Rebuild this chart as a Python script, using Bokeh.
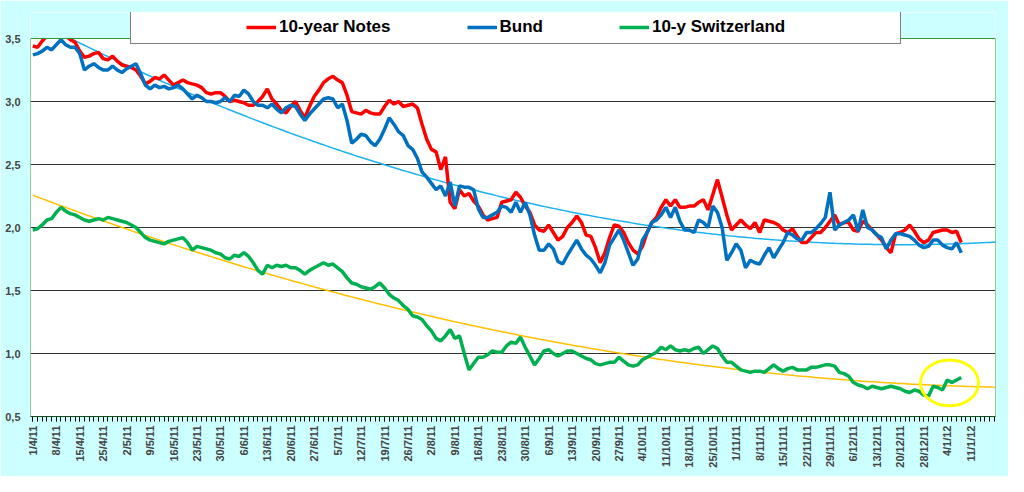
import numpy as np
from bokeh.plotting import figure
from bokeh.models import FixedTicker, Legend, LegendItem, BoxAnnotation
from bokeh.embed import file_html
from bokeh.resources import INLINE

tick_labels = ["1/4/11","8/4/11","15/4/11","25/4/11","2/5/11","9/5/11","16/5/11","23/5/11","30/5/11",
               "6/6/11","13/6/11","20/6/11","27/6/11","5/7/11","12/7/11","19/7/11","26/7/11","2/8/11",
               "9/8/11","16/8/11","23/8/11","30/8/11","6/9/11","13/9/11","20/9/11","27/9/11","4/10/11",
               "11/10/11","18/10/11","25/10/11","1/11/11","8/11/11","15/11/11","22/11/11","29/11/11",
               "6/12/11","13/12/11","20/12/11","28/12/11","4/1/12","11/1/12"]

notes = [3.44,3.43,3.48,3.52,3.55,3.55,3.54,3.52,3.49,3.47,3.40,3.35,3.36,3.38,3.39,3.34,3.33,3.36,3.32,3.29,
         3.28,3.27,3.25,3.20,3.14,3.16,3.19,3.18,3.21,3.17,3.13,3.15,3.17,3.15,3.14,3.13,3.11,3.07,3.06,3.07,
         3.07,3.04,3.00,3.01,3.00,2.99,2.97,2.97,3.00,3.04,3.10,3.02,2.98,2.93,2.91,2.96,3.00,2.93,2.87,2.96,
         3.04,3.09,3.15,3.18,3.20,3.17,3.15,3.05,2.92,2.91,2.90,2.93,2.91,2.90,2.90,2.96,3.01,2.98,3.00,2.96,
         2.97,2.98,2.95,2.82,2.70,2.62,2.60,2.46,2.56,2.20,2.15,2.30,2.25,2.27,2.21,2.17,2.10,2.06,2.07,2.08,
         2.20,2.21,2.22,2.28,2.24,2.17,2.12,2.02,1.98,1.97,2.02,1.96,1.90,1.93,2.00,2.04,2.09,2.04,1.94,1.93,
         1.84,1.72,1.80,1.92,2.02,2.01,1.96,1.88,1.82,1.79,1.85,1.96,2.04,2.08,2.16,2.22,2.17,2.22,2.16,2.16,
         2.17,2.17,2.20,2.22,2.14,2.26,2.38,2.24,2.10,1.98,2.02,2.06,2.02,1.99,2.04,1.96,2.06,2.05,2.04,2.02,
         1.98,1.96,1.99,1.93,1.88,1.88,1.92,1.96,1.96,2.00,2.05,2.10,2.02,2.04,2.04,1.98,1.97,2.05,2.02,1.98,
         1.94,1.90,1.84,1.80,1.95,1.96,1.98,2.02,1.97,1.91,1.88,1.90,1.96,1.97,1.98,1.98,1.96,1.97,1.88]

bund = [3.37,3.38,3.40,3.43,3.41,3.45,3.49,3.45,3.43,3.43,3.38,3.25,3.28,3.30,3.27,3.25,3.25,3.28,3.25,3.23,
        3.26,3.28,3.30,3.22,3.13,3.10,3.13,3.11,3.12,3.10,3.11,3.13,3.10,3.06,3.02,3.05,3.03,3.00,3.00,2.99,
        3.00,3.03,3.00,3.05,3.04,3.09,3.06,3.00,2.97,2.97,2.95,2.98,2.94,2.91,2.95,2.97,2.96,2.90,2.85,2.90,
        2.94,2.98,3.02,3.03,3.02,2.95,2.98,2.85,2.67,2.70,2.74,2.73,2.68,2.65,2.70,2.78,2.87,2.82,2.76,2.73,
        2.65,2.62,2.55,2.44,2.40,2.35,2.30,2.33,2.25,2.36,2.17,2.33,2.32,2.32,2.30,2.15,2.08,2.08,2.10,2.12,
        2.17,2.16,2.12,2.20,2.12,2.20,2.10,1.94,1.82,1.82,1.87,1.83,1.73,1.71,1.78,1.84,1.90,1.83,1.78,1.75,
        1.70,1.64,1.72,1.86,1.92,1.98,1.90,1.80,1.70,1.75,1.90,1.96,2.04,2.06,2.10,2.16,2.08,2.16,2.05,1.98,
        1.98,1.96,2.06,2.04,2.00,2.17,2.12,2.00,1.74,1.80,1.87,1.82,1.68,1.74,1.72,1.71,1.78,1.84,1.76,1.82,
        1.88,1.96,1.94,1.91,1.90,1.96,1.96,1.99,2.03,2.08,2.28,1.98,2.02,2.04,2.06,2.10,1.97,2.14,2.00,1.98,
        1.94,1.92,1.83,1.90,1.95,1.95,1.94,1.93,1.90,1.86,1.84,1.85,1.90,1.90,1.86,1.84,1.83,1.88,1.80]

swiss = [1.98,1.99,2.02,2.06,2.07,2.12,2.16,2.13,2.11,2.10,2.08,2.06,2.05,2.06,2.07,2.06,2.08,2.07,2.06,2.05,
         2.04,2.02,2.00,1.96,1.92,1.90,1.89,1.88,1.87,1.89,1.90,1.91,1.92,1.88,1.82,1.85,1.84,1.83,1.82,1.80,
         1.79,1.76,1.75,1.78,1.77,1.80,1.77,1.72,1.66,1.63,1.70,1.68,1.70,1.69,1.70,1.68,1.68,1.66,1.63,1.66,
         1.68,1.70,1.72,1.70,1.71,1.68,1.65,1.60,1.56,1.55,1.53,1.52,1.51,1.53,1.56,1.52,1.47,1.44,1.42,1.38,
         1.35,1.30,1.29,1.27,1.22,1.18,1.12,1.10,1.14,1.19,1.12,1.14,1.00,0.87,0.92,0.97,0.97,0.99,1.02,1.01,
         1.01,1.06,1.09,1.08,1.13,1.05,0.98,0.91,0.96,1.02,1.03,1.00,0.98,1.00,1.02,1.02,1.00,0.98,0.96,0.95,
         0.92,0.91,0.92,0.93,0.93,0.97,0.94,0.91,0.90,0.91,0.95,0.97,0.99,1.01,1.05,1.03,1.06,1.03,1.02,1.03,
         1.02,1.04,1.05,1.00,1.03,1.06,1.04,0.98,0.93,0.93,0.90,0.87,0.86,0.85,0.86,0.86,0.85,0.88,0.91,0.88,
         0.86,0.88,0.89,0.87,0.87,0.87,0.89,0.89,0.90,0.91,0.91,0.90,0.85,0.84,0.82,0.77,0.75,0.74,0.72,0.74,
         0.73,0.72,0.73,0.74,0.73,0.72,0.70,0.69,0.71,0.70,0.67,0.66,0.74,0.73,0.71,0.79,0.77,0.79,0.81]

n = len(notes)
assert len(bund) == n and len(swiss) == n
x = np.arange(n)
x_start, x_end = -0.5, 205.3
y_lo, y_hi = 0.5, 3.5
y_top = y_hi + 26 / 126  # extra room above the plot area for the legend box

# polynomial trend lines (order 2), as in the spreadsheet
xt = np.linspace(0, x_end, 300)
bund_trend = np.polyval(np.polyfit(x, bund, 2), xt)
swiss_trend = np.polyval(np.polyfit(x, swiss, 2), xt)

BG = "#ccffff"
p = figure(width=1008, height=476, output_backend="svg", toolbar_location=None,
           x_range=(x_start, x_end), y_range=(y_lo, y_top),
           min_border_left=30, min_border_right=13, min_border_top=12, min_border_bottom=60)
p.border_fill_color = BG
p.background_fill_color = "white"
p.outline_line_color = None

p.xgrid.visible = False
yt = [0.5, 1.0, 1.5, 2.0, 2.5, 3.0, 3.5]
p.ygrid.grid_line_color = "#333333"
p.ygrid.grid_line_width = 1
p.ygrid.ticker = FixedTicker(ticks=yt[1:-1])

p.yaxis.ticker = FixedTicker(ticks=yt)
p.yaxis.major_label_overrides = {v: f"{v:.1f}".replace(".", ",") for v in yt}
p.yaxis.major_label_text_font = "Liberation Sans"
p.yaxis.major_label_text_font_style = "bold"
p.yaxis.major_label_text_font_size = "11px"
p.yaxis.axis_line_color = None
p.yaxis.major_tick_line_color = None
p.yaxis.minor_tick_line_color = None
p.yaxis.major_label_standoff = 4

xt_ticks = list(range(0, 5 * len(tick_labels), 5))
p.xaxis.ticker = FixedTicker(ticks=xt_ticks, minor_ticks=list(range(0, 206)))
p.xaxis.major_label_overrides = {t: l for t, l in zip(xt_ticks, tick_labels)}
p.xaxis.major_label_orientation = np.pi / 2
p.xaxis.major_label_text_font = "Liberation Sans"
p.xaxis.major_label_text_font_style = "bold"
p.xaxis.major_label_text_font_size = "11px"
p.xaxis.axis_line_color = "black"
p.xaxis.major_tick_line_color = "black"
p.xaxis.minor_tick_line_color = "black"
p.xaxis.major_tick_in = 0
p.xaxis.major_tick_out = 5
p.xaxis.minor_tick_in = 0
p.xaxis.minor_tick_out = 5
p.xaxis.major_label_standoff = 4

p.line(xt, bund_trend, line_color="#1ab2f0", line_width=1.5)
p.line(xt, swiss_trend, line_color="#ffc000", line_width=1.5)
r1 = p.line(x, notes, line_color="#ff0000", line_width=3.5)
r2 = p.line(x, bund, line_color="#0070c0", line_width=3.5)
r3 = p.line(x, swiss, line_color="#00b050", line_width=3.5)
rd = p.line(x, swiss, line_alpha=0)

# highlight the last days of the Swiss series
k = 6
p.ellipse(x=[float(np.mean(x[-k:]))], y=[float(np.mean(swiss[-k:]))], width=58, height=46,
          width_units="screen", height_units="screen", fill_alpha=0,
          line_color="#ffff00", line_width=3)

# cover the area above 3.5 with the page colour, then draw the plot-area border
p.add_layout(BoxAnnotation(bottom=y_hi, fill_color=BG, fill_alpha=1, line_alpha=0))
p.add_layout(BoxAnnotation(bottom=y_lo, top=y_hi, left=x_start, right=x_end, fill_alpha=0,
                           line_color="#339933", line_width=1, line_alpha=1))

legend = Legend(items=[LegendItem(label="", renderers=[rd]),
                       LegendItem(label="10-year Notes", renderers=[r1]),
                       LegendItem(label="Bund", renderers=[r2]),
                       LegendItem(label="10-y Switzerland", renderers=[r3]),
                       LegendItem(label="", renderers=[rd])],
                orientation="horizontal", location=(100, 372), margin=0,
                spacing=76, padding=6, glyph_width=30, label_standoff=3,
                label_height=16, glyph_height=16, label_width=0,
                label_text_font="Liberation Sans", label_text_font_style="bold",
                label_text_font_size="17px", label_text_color="black",
                border_line_color="black", border_line_width=1.5,
                background_fill_color="white", background_fill_alpha=1)
p.add_layout(legend, "center")

open("out.html", "w").write(file_html(p, INLINE))
